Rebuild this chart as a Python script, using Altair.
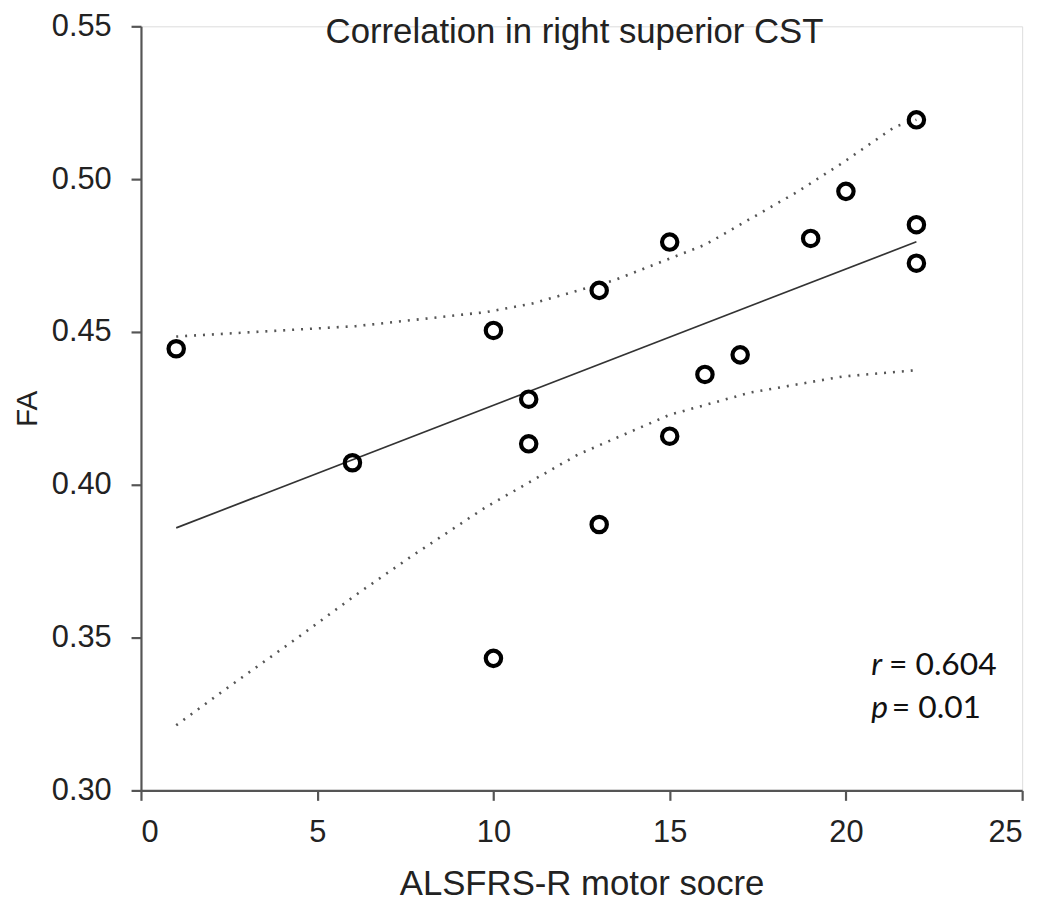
import altair as alt
import pandas as pd

# ---- data ----
score = [1, 6, 10, 10, 11, 11, 13, 13, 15, 15, 16, 17, 19, 20, 22, 22, 22]
fa = [0.4445, 0.4072, 0.4505, 0.3432, 0.4280, 0.4134, 0.4636, 0.3870,
      0.4794, 0.4159, 0.4361, 0.4425, 0.4806, 0.4960, 0.5194, 0.4851, 0.4725]

fit_x = [1, 22]
fit_y = [0.3859, 0.4795]

upper_x = [1, 6.1, 9.8, 11.1, 13.4, 16, 18.6, 19.9, 21.4, 22]
upper_y = [0.4485, 0.4519, 0.4565, 0.4593, 0.4668, 0.4785, 0.4957, 0.5053, 0.5172, 0.5194]

lower_x = [1, 2.3, 4.4, 6.2, 7.7, 9.8, 12.4, 15, 17.3, 19.9, 22]
lower_y = [0.3213, 0.3323, 0.3496, 0.3648, 0.3768, 0.3928, 0.4099, 0.4229, 0.4302, 0.4354, 0.4375]

x_ticks = [0, 5, 10, 15, 20, 25]
y_ticks = [0.30, 0.35, 0.40, 0.45, 0.50, 0.55]

title_text = ["Correlation in right superior CST"]
title_x = [12.30]
title_y = [0.5445]

ann_italic = ["r", "p"]
ann_rest = ["= 0.604", "= 0.01"]
ann_x_italic = [20.72, 20.72]
ann_x_rest = [21.22, 21.30]
ann_y = [0.3409, 0.3270]

# ---- tables ----
points = pd.DataFrame({"score": score, "fa": fa})
fit = pd.DataFrame({"score": fit_x, "fa": fit_y})
ci = pd.concat([
    pd.DataFrame({"score": upper_x, "fa": upper_y, "band": "upper"}),
    pd.DataFrame({"score": lower_x, "fa": lower_y, "band": "lower"}),
])
ttl = pd.DataFrame({"score": title_x, "fa": title_y, "t": title_text})
ann1 = pd.DataFrame({"score": ann_x_italic, "fa": ann_y, "t": ann_italic})
ann2 = pd.DataFrame({"score": ann_x_rest, "fa": ann_y, "t": ann_rest})

AX_COLOR = "#555555"
FONT = "Liberation Sans"
W, H = 888, 770

xs = alt.Scale(domain=[0, 25], nice=False, zero=False)
ys = alt.Scale(domain=[0.30, 0.55], nice=False, zero=False)

x_axis = alt.Axis(
    values=x_ticks, format="d", title="ALSFRS-R motor socre", grid=False,
    domainColor=AX_COLOR, domainWidth=2.2, tickColor=AX_COLOR, tickWidth=2.2, tickSize=10,
    labelFont=FONT, labelFontSize=31, labelColor="#222222", labelPadding=18,
    titleFont=FONT, titleFontSize=35, titleFontWeight="normal", titleColor="#222222",
    titleX=W / 2, titleY=105, titleBaseline="alphabetic", titleAnchor="middle",
)
y_axis = alt.Axis(
    values=y_ticks, format=".2f", title="FA", grid=False,
    domainColor=AX_COLOR, domainWidth=2.2, tickColor=AX_COLOR, tickWidth=2.2, tickSize=10,
    labelFont=FONT, labelFontSize=31, labelColor="#222222", labelPadding=20,
    titleFont=FONT, titleFontSize=30, titleFontWeight="normal", titleColor="#222222",
    titleX=-105, titleY=H / 2, titleBaseline="alphabetic", titleAngle=270, titleAnchor="middle",
)

X = alt.X("score:Q", scale=xs, axis=x_axis)
Y = alt.Y("fa:Q", scale=ys, axis=y_axis)

ci_layer = alt.Chart(ci).mark_line(
    color="#555555", strokeWidth=2.6, strokeDash=[2, 7], strokeCap="butt"
).encode(x=X, y=Y, detail="band:N")

fit_layer = alt.Chart(fit).mark_line(color="#333333", strokeWidth=1.7).encode(x=X, y=Y)

pt_layer = alt.Chart(points).mark_point(
    shape="circle", filled=False, color="#000000", size=240, strokeWidth=4.2, opacity=1
).encode(x=X, y=Y)

title_layer = alt.Chart(ttl).mark_text(
    font=FONT, fontSize=35, align="center", baseline="alphabetic", color="#222222"
).encode(x=X, y=Y, text="t:N")

ann_i = alt.Chart(ann1).mark_text(
    font="Lato", fontSize=32, fontStyle="italic", align="left", baseline="middle", color="#111111"
).encode(x=X, y=Y, text="t:N")
ann_r = alt.Chart(ann2).mark_text(
    font="Lato", fontSize=32, align="left", baseline="middle", color="#111111"
).encode(x=X, y=Y, text="t:N")

chart = alt.layer(ci_layer, fit_layer, pt_layer, title_layer, ann_i, ann_r).properties(
    width=W, height=H,
    autosize=alt.AutoSizeParams(type="none"),
    padding={"left": 134, "top": 15, "right": 20, "bottom": 108},
).configure_view(stroke=None).configure(background="white")

chart.save("out.html", embed_options={"renderer": "svg", "actions": False})
